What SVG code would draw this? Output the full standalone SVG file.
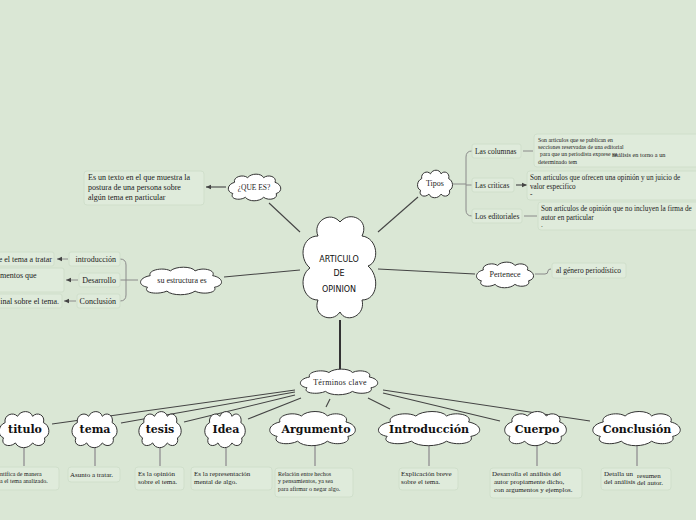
<svg xmlns="http://www.w3.org/2000/svg" width="696" height="520" viewBox="0 0 696 520">
<defs>
<style>
.bg{fill:#dae7d5}
.cl{fill:#fff;stroke:#333;stroke-width:1}
.main{stroke:#444;stroke-width:1.1;fill:none}
.thin{stroke:#8a8a8a;stroke-width:1;fill:none}
.vert{stroke:#9a9a9a;stroke-width:1.5;fill:none}
.box{fill:#dfebdb;stroke:#d0dfcb;stroke-width:1}
.t{font-family:"Liberation Serif",serif;fill:#222}
.ct{font-family:"DejaVu Sans",sans-serif;font-size:8px;fill:#111;text-anchor:middle}
.term{font-family:"DejaVu Serif",serif;font-weight:bold;font-size:11px;fill:#111;text-anchor:middle}
</style>
<marker id="ah" markerWidth="6" markerHeight="6" refX="5" refY="3" orient="auto" markerUnits="userSpaceOnUse">
<path d="M0,0.8 L5,3 L0,5.2 Z" fill="#444"/>
</marker>
<path id="cloud" vector-effect="non-scaling-stroke" d="M15,20 C12,8 30,2 38,10 C44,0 62,0 66,10 C74,2 90,8 86,20 C98,24 100,40 88,44 C92,56 74,60 66,52 C58,62 40,62 34,52 C24,60 6,56 12,44 C0,40 2,24 15,20 Z"/>
</defs>
<rect class="bg" x="0" y="0" width="696" height="520"/>

<g id="connectors">
<line class="main" x1="300" y1="232" x2="269" y2="203"/>
<line class="main" x1="226" y1="187" x2="206" y2="187" marker-end="url(#ah)"/>
<line class="main" x1="378" y1="232" x2="418" y2="197"/>
<line class="main" x1="378" y1="269" x2="475" y2="274"/>
<line class="main" x1="300" y1="270" x2="224" y2="277"/>
<line x1="340" y1="320" x2="340" y2="369" stroke="#333" stroke-width="2"/>
<path class="thin" d="M453,184 H466 M472,151 Q466,151 466,157 V210 Q466,216 472,216 M466,185 H472"/>
<line class="thin" x1="523" y1="151" x2="533" y2="151"/>
<line class="main" x1="516" y1="185" x2="527" y2="185" marker-end="url(#ah)"/>
<line class="thin" x1="524" y1="216" x2="537" y2="216"/>
<path class="thin" d="M138,280 H126 M120,259 Q126,259 126,265 V295 Q126,301 120,301 M126,280 H120"/>
<line class="thin" x1="68" y1="259" x2="57" y2="259" marker-end="url(#ah)"/>
<line class="thin" x1="78" y1="280" x2="66" y2="280" marker-end="url(#ah)"/>
<line class="thin" x1="76" y1="301" x2="64" y2="301" marker-end="url(#ah)"/>
<path class="thin" d="M535,274 H545 Q548,274 548,271 Q548,269 551,269"/>
<line class="main" x1="295" y1="390" x2="52" y2="424"/>
<line class="main" x1="295" y1="392" x2="121" y2="423"/>
<line class="main" x1="295" y1="395" x2="184" y2="422"/>
<line class="main" x1="301" y1="398" x2="248" y2="419"/>
<line class="main" x1="330" y1="399" x2="326" y2="407"/>
<line class="main" x1="368" y1="398" x2="390" y2="409"/>
<line class="main" x1="383" y1="393" x2="500" y2="421"/>
<line class="main" x1="383" y1="390" x2="590" y2="421"/>
<path class="vert" d="M24,448 V466 M95,448 V466 M160,448 V466 M226,448 V466 M315,446 V466 M429,446 V466 M537,446 V466 M637,446 V466"/>
</g>

<g id="central">
<path class="cl" d="M318,236 C312,222 330,210 340,222 C350,210 370,220 362,236 C378,238 380,262 368,266 C380,276 378,300 362,300 C366,316 346,324 340,312 C332,324 312,316 318,300 C302,300 298,276 310,268 C298,258 302,236 318,236 Z"/>
<text class="ct" x="339" y="262">ARTICULO</text>
<text class="ct" x="339" y="276">DE</text>
<text class="ct" x="339" y="292">OPINION</text>
</g>

<g id="quees">
<use href="#cloud" class="cl" transform="translate(226,173) scale(0.57,0.467)"/>
<text class="t" x="254" y="190" font-size="7.5" text-anchor="middle">¿QUE ES?</text>
</g>
<g id="quees-desc">
<rect class="box" x="84" y="171" width="120" height="34" rx="3"/>
<text class="t" font-size="8"><tspan x="88" y="180">Es un texto en el que muestra la</tspan><tspan x="88" y="190">postura de una persona sobre</tspan><tspan x="88" y="200">algún tema en particular</tspan></text>
</g>

<g id="tipos">
<use href="#cloud" class="cl" transform="translate(416,169) scale(0.38,0.483)"/>
<text class="t" x="435" y="186" font-size="8" text-anchor="middle">Tipos</text>
</g>
<g id="columnas">
<rect class="box" x="472" y="144" width="49" height="14" rx="2"/>
<text class="t" x="475" y="154" font-size="7.5">Las columnas</text>
</g>
<g id="columnas-desc">
<rect class="box" x="534" y="134" width="166" height="33" rx="3"/>
<text class="t" font-size="5.8"><tspan x="538" y="142">Son articulos que se publican en</tspan><tspan x="538" y="149">secciones reservadas de una editorial</tspan><tspan x="540" y="156">para que un periodista exprese su</tspan><tspan x="612" y="157" font-size="6.3">análisis en torno a un</tspan><tspan x="538" y="164">determinado tem</tspan></text>
</g>
<g id="criticas">
<rect class="box" x="472" y="178" width="42" height="14" rx="2"/>
<text class="t" x="475" y="188" font-size="7.5">Las criticas</text>
</g>
<g id="criticas-desc">
<rect class="box" x="527" y="171" width="172" height="29" rx="3"/>
<text class="t" font-size="7.2"><tspan x="530" y="180">Son articulos que ofrecen una opinión y un juicio de</tspan><tspan x="530" y="189">valor especifico</tspan><tspan x="530" y="197">-</tspan></text>
</g>
<g id="editoriales">
<rect class="box" x="472" y="209" width="50" height="14" rx="2"/>
<text class="t" x="475" y="219" font-size="7.5">Los editoriales</text>
</g>
<g id="editoriales-desc">
<rect class="box" x="538" y="202" width="162" height="28" rx="3"/>
<text class="t" font-size="7.2"><tspan x="541" y="211">Son artículos de opinión que no incluyen la firma de</tspan><tspan x="541" y="220">autor en particular</tspan><tspan x="541" y="227">.</tspan></text>
</g>

<g id="pertenece">
<use href="#cloud" class="cl" transform="translate(474,261) scale(0.62,0.45)"/>
<text class="t" x="505" y="277" font-size="8" text-anchor="middle">Pertenece</text>
</g>
<g id="genero">
<rect class="box" x="552" y="263" width="74" height="15" rx="2"/>
<text class="t" x="556" y="273" font-size="7.5">al género periodístico</text>
</g>

<g id="estructura">
<use href="#cloud" class="cl" transform="translate(137,266) scale(0.88,0.483)"/>
<text class="t" x="182" y="283" font-size="8" text-anchor="middle">su estructura es</text>
</g>
<g id="introduccion">
<rect class="box" x="69" y="252" width="51" height="14" rx="2"/>
<text class="t" x="116" y="262" font-size="8" text-anchor="end">introducción</text>
</g>
<g id="desarrollo">
<rect class="box" x="79" y="273" width="41" height="14" rx="2"/>
<text class="t" x="116" y="283" font-size="8" text-anchor="end">Desarrollo</text>
</g>
<g id="conclusion-e">
<rect class="box" x="77" y="294" width="43" height="14" rx="2"/>
<text class="t" x="116" y="304" font-size="8" text-anchor="end">Conclusión</text>
</g>
<g id="intro-desc">
<rect class="box" x="-5" y="252" width="59" height="14" rx="2"/>
<text class="t" x="52" y="262" font-size="8" text-anchor="end">e el tema a tratar</text>
</g>
<g id="desarrollo-desc">
<rect class="box" x="-5" y="268" width="69" height="24" rx="2"/>
<text class="t" x="0" y="278" font-size="8">mentos que</text>
</g>
<g id="conclusion-desc">
<rect class="box" x="-5" y="294" width="67" height="14" rx="2"/>
<text class="t" x="59" y="304" font-size="8" text-anchor="end">inal sobre el tema.</text>
</g>

<g id="terminos">
<use href="#cloud" class="cl" transform="translate(297,368) scale(0.84,0.45)"/>
<text class="t" x="340" y="385" font-size="8" text-anchor="middle" letter-spacing="0.3">Términos clave</text>
</g>

<g id="titulo">
<use href="#cloud" class="cl" transform="translate(-3,410) scale(0.54,0.633)"/>
<text class="term" x="25" y="433">titulo</text>
</g>
<g id="titulo-desc">
<rect class="box" x="-5" y="467" width="64" height="23" rx="3"/>
<text class="t" font-size="6"><tspan x="0" y="476">ntifica de manera</tspan><tspan x="0" y="483">a el tema analizado.</tspan></text>
</g>
<g id="tema">
<use href="#cloud" class="cl" transform="translate(70,410) scale(0.49,0.633)"/>
<text class="term" x="95" y="433">tema</text>
</g>
<g id="tema-desc">
<rect class="box" x="68" y="467" width="52" height="15" rx="3"/>
<text class="t" x="70" y="477" font-size="7">Asunto a tratar.</text>
</g>
<g id="tesis">
<use href="#cloud" class="cl" transform="translate(137,410) scale(0.46,0.633)"/>
<text class="term" x="160" y="433">tesis</text>
</g>
<g id="tesis-desc">
<rect class="box" x="135" y="467" width="49" height="23" rx="3"/>
<text class="t" font-size="7"><tspan x="138" y="476">Es la opinión</tspan><tspan x="138" y="484">sobre el tema.</tspan></text>
</g>
<g id="idea">
<use href="#cloud" class="cl" transform="translate(203,410) scale(0.44,0.633)"/>
<text class="term" x="226" y="433">Idea</text>
</g>
<g id="idea-desc">
<rect class="box" x="191" y="467" width="81" height="23" rx="3"/>
<text class="t" font-size="7"><tspan x="194" y="476">Es la representación</tspan><tspan x="194" y="484">mental de algo.</tspan></text>
</g>
<g id="argumento">
<use href="#cloud" class="cl" transform="translate(266,410) scale(0.93,0.6)"/>
<text class="term" x="316" y="433">Argumento</text>
</g>
<g id="argumento-desc">
<rect class="box" x="275" y="468" width="78" height="29" rx="3"/>
<text class="t" font-size="6"><tspan x="278" y="476">Relación entre hechos</tspan><tspan x="278" y="483">y pensamientos, ya sea</tspan><tspan x="278" y="491">para afirmar o negar algo.</tspan></text>
</g>
<g id="introduccion-t">
<use href="#cloud" class="cl" transform="translate(374,410) scale(1.1,0.6)"/>
<text class="term" x="429" y="433">Introducción</text>
</g>
<g id="introduccion-desc">
<rect class="box" x="399" y="468" width="59" height="22" rx="3"/>
<text class="t" font-size="7"><tspan x="401" y="476">Explicación breve</tspan><tspan x="401" y="484">sobre el tema.</tspan></text>
</g>
<g id="cuerpo">
<use href="#cloud" class="cl" transform="translate(502,410) scale(0.67,0.6)"/>
<text class="term" x="537" y="433">Cuerpo</text>
</g>
<g id="cuerpo-desc">
<rect class="box" x="490" y="468" width="92" height="30" rx="3"/>
<text class="t" font-size="7"><tspan x="492" y="476">Desarrolla el análisis del</tspan><tspan x="494" y="484">autor propiamente dicho,</tspan><tspan x="494" y="492">con argumentos y ejemplos.</tspan></text>
</g>
<g id="conclusion-t">
<use href="#cloud" class="cl" transform="translate(589,410) scale(0.95,0.6)"/>
<text class="term" x="637" y="433">Conclusión</text>
</g>
<g id="conclusion-t-desc">
<rect class="box" x="601" y="468" width="70" height="22" rx="3"/>
<text class="t" font-size="7"><tspan x="604" y="476">Detalla un</tspan><tspan x="637" y="478">resumen</tspan><tspan x="604" y="484">del análisis</tspan><tspan x="637" y="485">del autor.</tspan></text>
</g>
</svg>
